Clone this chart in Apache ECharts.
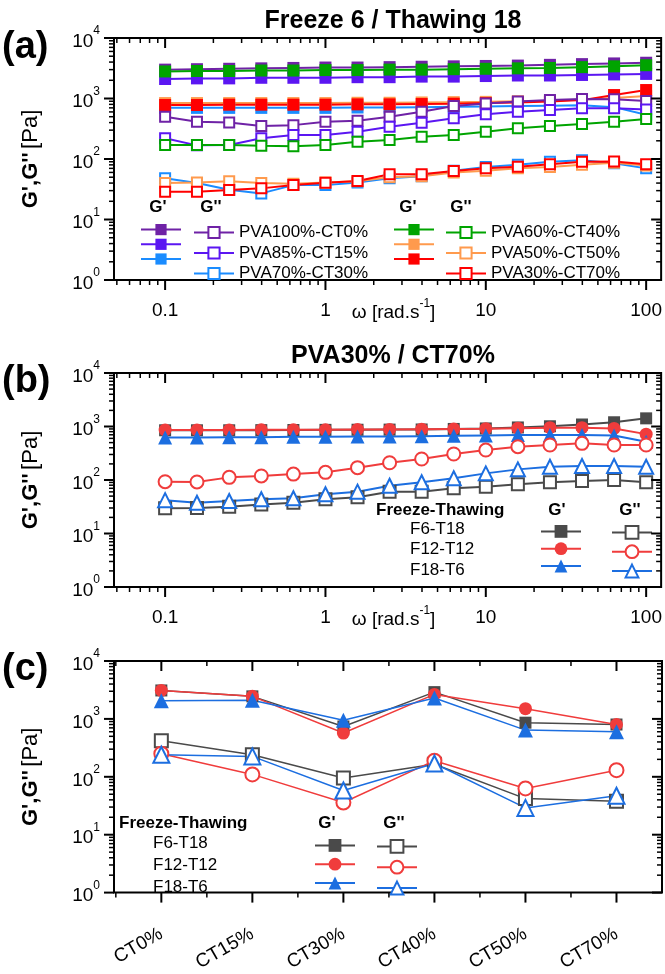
<!DOCTYPE html>
<html><head><meta charset="utf-8">
<script src="https://cdn.jsdelivr.net/npm/echarts@6/dist/echarts.min.js"></script>
<style>html,body{margin:0;padding:0;background:#fff}#c{width:665px;height:974px}</style>
</head><body><div id="c"></div>
<script>
// ---------- data ----------
const freq = [0.1, 0.158, 0.251, 0.398, 0.631, 1, 1.585, 2.512, 3.981, 6.31, 10, 15.85, 25.12, 39.81, 63.1, 100];
const xTickLabels = ['0.1', '1', '10', '100'];
const yExponents = [0, 1, 2, 3, 4];
const catsC = ['CT0%', 'CT15%', 'CT30%', 'CT40%', 'CT50%', 'CT70%'];

// Panel (a): Freeze 6 / Thawing 18, G' (storage) and G'' (loss)
const a100_G1 = [3000,3050,3100,3150,3200,3250,3250,3300,3350,3400,3450,3500,3600,3700,3800,3900];
const a85_G1  = [2100,2150,2150,2200,2200,2200,2250,2250,2300,2300,2350,2400,2400,2450,2500,2550];
const a70_G1  = [700,700,700,700,700,700,710,710,720,730,740,750,760,770,720,540];
const a60_G1  = [2800,2850,2850,2900,2900,2950,2950,3000,3000,3050,3100,3150,3200,3300,3400,3550];
const a50_G1  = [840,840,840,840,840,840,850,850,860,870,880,900,920,960,1020,1100];
const a30_G1  = [780,780,790,790,790,790,800,800,810,820,840,860,890,940,1140,1380];
const a100_G2 = [500,414,400,351,363,414,430,500,605,752,830,890,945,980,975,910];
const a85_G2  = [220,168,170,220,250,250,283,342,398,470,547,605,645,688,688,660];
const a70_G2  = [48,40,31,27,37,37,41,48,52,64,74,80,90,95,85,70];
const a60_G2  = [170,170,170,166,163,170,193,206,234,250,283,321,351,379,414,458];
const a50_G2  = [40,41,43,40,39,41,43,50,52,60,64,70,74,80,87,78];
const a30_G2  = [28.8,28.8,30.7,32.7,37.2,40.6,43.3,55.8,55.8,63.4,70.2,74.6,81.7,90.3,91,81.7];

// Panel (b): PVA30% / CT70%
const b_F6_G1  = [850,850,850,855,860,865,870,875,880,900,920,960,1010,1090,1200,1420];
const b_F12_G1 = [860,860,860,870,870,870,880,880,890,900,910,930,950,950,920,720];
const b_F18_G1 = [620,620,630,630,640,640,650,650,660,670,680,690,690,690,680,520];
const b_F6_G2  = [29.6,30,31.7,35,37.6,43.6,47.5,60.5,60.5,70,75,83,90.6,96,100,90.6];
const b_F12_G2 = [93,92,112,119,129,139,170,210,247,306,363,419,451,484,451,451];
const b_F18_G2 = [42,37.6,40.5,43.6,45.5,54,60.5,78,90.6,108,133,158,177,183,183,177];

// Panel (c): by composition
const c_F6_G1  = [3100, 2450, 740, 2900, 860, 800];
const c_F12_G1 = [3100, 2450, 570, 2650, 1500, 800];
const c_F18_G1 = [2050, 2100, 950, 2300, 640, 600];
const c_F6_G2  = [420, 240, 95, 165, 42, 38];
const c_F12_G2 = [250, 110, 36, 190, 63, 130];
const c_F18_G2 = [240, 225, 58, 170, 29, 47];

// ---------- styling ----------
const FF = "'Liberation Sans', Arial, sans-serif";
const X_MIN = 0.048, X_MAX = 124;
const C_MIN = -0.52, C_MAX = 5.5;
const grids = [
  {left: 114, top: 38, width: 548, height: 242},
  {left: 114, top: 373, width: 548, height: 214},
  {left: 114, top: 661, width: 548, height: 242}
];
const colA = {p100:'#6f22a6', p85:'#5b16f2', p70:'#1a8cff', p60:'#00a400', p50:'#ff9a4d', p30:'#ff0000'};
const colB = {f6:'#4a4a4a', f12:'#f03c3c', f18:'#1c6ee0'};

function mk(name, gi, xs, ys, color, symbol, hollow, size, lw, z) {
  return {
    type: 'line', name: name, xAxisIndex: gi, yAxisIndex: gi,
    data: xs.map((x, i) => [x, ys[i]]),
    symbol: symbol, symbolSize: size, showAllSymbol: true,
    lineStyle: {color: color, width: lw},
    itemStyle: hollow ? {color: '#fff', borderColor: color, borderWidth: 2}
                      : {color: color, borderColor: color, borderWidth: 0},
    emphasis: {disabled: true}, animation: false, z: z || 3
  };
}

const idx = [0,1,2,3,4,5];
const series = [];
// (a) G'
series.push(mk("PVA100%-CT0%|G'", 0, freq, a100_G1, colA.p100, 'rect', false, 12, 2));
series.push(mk("PVA85%-CT15%|G'", 0, freq, a85_G1, colA.p85, 'rect', false, 12, 2));
series.push(mk("PVA70%-CT30%|G'", 0, freq, a70_G1, colA.p70, 'rect', false, 12, 2));
series.push(mk("PVA60%-CT40%|G'", 0, freq, a60_G1, colA.p60, 'rect', false, 12, 2));
series.push(mk("PVA50%-CT50%|G'", 0, freq, a50_G1, colA.p50, 'rect', false, 12, 2));
series.push(mk("PVA30%-CT70%|G'", 0, freq, a30_G1, colA.p30, 'rect', false, 12, 2));
// (a) G''
series.push(mk("PVA100%-CT0%|G''", 0, freq, a100_G2, colA.p100, 'rect', true, 10, 2, 4));
series.push(mk("PVA85%-CT15%|G''", 0, freq, a85_G2, colA.p85, 'rect', true, 10, 2, 4));
series.push(mk("PVA70%-CT30%|G''", 0, freq, a70_G2, colA.p70, 'rect', true, 10, 2, 4));
series.push(mk("PVA60%-CT40%|G''", 0, freq, a60_G2, colA.p60, 'rect', true, 10, 2, 4));
series.push(mk("PVA50%-CT50%|G''", 0, freq, a50_G2, colA.p50, 'rect', true, 10, 2, 4));
series.push(mk("PVA30%-CT70%|G''", 0, freq, a30_G2, colA.p30, 'rect', true, 10, 2, 4));
// (b)
series.push(mk("F6-T18|b|G'", 1, freq, b_F6_G1, colB.f6, 'rect', false, 12, 2));
series.push(mk("F12-T12|b|G'", 1, freq, b_F12_G1, colB.f12, 'circle', false, 13, 2));
series.push(mk("F18-T6|b|G'", 1, freq, b_F18_G1, colB.f18, 'triangle', false, 14, 2));
series.push(mk("F6-T18|b|G''", 1, freq, b_F6_G2, colB.f6, 'rect', true, 12, 2, 4));
series.push(mk("F12-T12|b|G''", 1, freq, b_F12_G2, colB.f12, 'circle', true, 13, 2, 4));
series.push(mk("F18-T6|b|G''", 1, freq, b_F18_G2, colB.f18, 'triangle', true, 14, 2, 4));
// (c)
series.push(mk("F6-T18|c|G'", 2, idx, c_F6_G1, colB.f6, 'rect', false, 12, 1.5));
series.push(mk("F12-T12|c|G'", 2, idx, c_F12_G1, colB.f12, 'circle', false, 13, 1.5));
series.push(mk("F18-T6|c|G'", 2, idx, c_F18_G1, colB.f18, 'triangle', false, 15, 1.5));
series.push(mk("F6-T18|c|G''", 2, idx, c_F6_G2, colB.f6, 'rect', true, 13, 1.5, 4));
series.push(mk("F12-T12|c|G''", 2, idx, c_F12_G2, colB.f12, 'circle', true, 14, 1.5, 4));
series.push(mk("F18-T6|c|G''", 2, idx, c_F18_G2, colB.f18, 'triangle', true, 16, 1.5, 4));

// ---------- axis ticks (major + minor) through the axes' own scales ----------
function logMinor(lo, hi) {
  const out = [];
  for (let e = Math.floor(Math.log10(lo)); e <= Math.ceil(Math.log10(hi)); e++) {
    for (let m = 2; m <= 9; m++) { const v = m * Math.pow(10, e); if (v >= lo && v <= hi) out.push(v); }
  }
  return out;
}
function tickSeries(gi, xMaj, xMin, xLo, xHi) {
  const data = [];
  xMaj.forEach(v => data.push([v, 1, 0, 1]));
  xMin.forEach(v => data.push([v, 1, 0, 0]));
  yExponents.forEach(e => data.push([xLo, Math.pow(10, e), 1, 1]));
  logMinor(1, 10000).forEach(v => data.push([xLo, v, 1, 0]));
  return {
    type: 'custom', xAxisIndex: gi, yAxisIndex: gi, clip: false, silent: true, z: 10,
    animation: false, encode: {x: 0, y: 1}, data: data,
    renderItem: function (params, api) {
      const kind = api.value(2), maj = api.value(3);
      const L = maj ? 10 : 5, lw = maj ? 2 : 1.5;
      const st = {stroke: '#000', lineWidth: lw};
      if (kind === 0) {
        const v = api.value(0);
        const b = api.coord([v, 1]), t = api.coord([v, 10000]);
        return {type: 'group', children: [
          {type: 'line', shape: {x1: b[0], y1: b[1], x2: b[0], y2: b[1] + L}, style: st},
          {type: 'line', shape: {x1: t[0], y1: t[1], x2: t[0], y2: t[1] + L}, style: st}
        ]};
      }
      const v = api.value(1);
      const l = api.coord([xLo, v]), r = api.coord([xHi, v]);
      return {type: 'group', children: [
        {type: 'line', shape: {x1: l[0], y1: l[1], x2: l[0] - L, y2: l[1]}, style: st},
        {type: 'line', shape: {x1: r[0], y1: r[1], x2: r[0] - L, y2: r[1]}, style: st}
      ]};
    }
  };
}
const xMajA = [0.1, 1, 10, 100];
series.push(tickSeries(0, xMajA, logMinor(X_MIN, X_MAX), X_MIN, X_MAX));
series.push(tickSeries(1, xMajA, logMinor(X_MIN, X_MAX), X_MIN, X_MAX));
series.push(tickSeries(2, idx, [-0.5, 0.5, 1.5, 2.5, 3.5, 4.5], C_MIN, C_MAX));

// ---------- axes ----------
const omegaName = '{t|\u03c9 [rad.s}{s|-1}{t|]}';
const omegaRich = {
  t: {fontSize: 19, fontFamily: FF, color: '#000', lineHeight: 24, verticalAlign: 'bottom'},
  s: {fontSize: 12, fontFamily: FF, color: '#000', verticalAlign: 'top'}
};
function logX(gi) {
  return {
    type: 'log', gridIndex: gi, min: X_MIN, max: X_MAX, logBase: 10,
    axisLine: {show: false}, axisTick: {show: false}, splitLine: {show: false},
    axisLabel: {
      fontSize: 19, fontFamily: FF, color: '#000', margin: 21,
      showMinLabel: false, showMaxLabel: false,
      formatter: function (v) {
        const e = Math.log10(v);
        if (Math.abs(e - Math.round(e)) > 1e-6) return '';
        return xTickLabels[Math.round(e) + 1] || '';
      }
    },
    name: omegaName, nameLocation: 'middle', nameGap: 18, nameMoveOverlap: false,
    nameTextStyle: {rich: omegaRich, padding: [0, 0, 0, 12]}
  };
}
const yRich = {
  b: {fontSize: 19, fontFamily: FF, color: '#000', lineHeight: 26, verticalAlign: 'bottom'},
  s: {fontSize: 12, fontFamily: FF, color: '#000', verticalAlign: 'top'}
};
function logY(gi) {
  return {
    type: 'log', gridIndex: gi, min: 1, max: 10000, logBase: 10,
    axisLine: {show: false}, axisTick: {show: false}, splitLine: {show: false},
    axisLabel: {
      margin: 14,
      formatter: function (v) { return '{b|10}{s|' + Math.round(Math.log10(v)) + '}'; },
      rich: yRich
    },
    name: "{g|G',G''} {p|[Pa]}", nameLocation: 'middle', nameGap: 72, nameRotate: 90,
    nameTextStyle: {rich: {
      g: {fontSize: 22, fontWeight: 'bold', fontFamily: FF, color: '#000'},
      p: {fontSize: 22, fontFamily: FF, color: '#000'}
    }}
  };
}
const xAxes = [logX(0), logX(1), {
  type: 'value', gridIndex: 2, min: C_MIN, max: C_MAX,
  axisLine: {show: false}, axisTick: {show: false}, splitLine: {show: false},
  axisLabel: {
    fontSize: 19, fontFamily: FF, color: '#000', rotate: 30, margin: 40,
    showMinLabel: false, showMaxLabel: false,
    formatter: function (v) { return (Number.isInteger(v) && catsC[v]) ? catsC[v] : ''; }
  }
}];
const yAxes = [logY(0), logY(1), logY(2)];

// ---------- legends ----------
function leg(names, left, top, ih, gap, showText) {
  return {
    orient: 'vertical', selectedMode: false, itemWidth: 40,
    data: names, left: left, top: top, itemHeight: ih, itemGap: gap,
    textStyle: {fontSize: 17, fontFamily: FF, color: '#000', lineHeight: ih},
    formatter: showText ? function (n) { return n.split('|')[0]; } : function () { return ''; }
  };
}
const g1 = ['PVA100%-CT0%', 'PVA85%-CT15%', 'PVA70%-CT30%'];
const g2 = ['PVA60%-CT40%', 'PVA50%-CT50%', 'PVA30%-CT70%'];
const ft = ['F6-T18', 'F12-T12', 'F18-T6'];
const legends = [
  leg(g1.map(n => n + "|G'"), 135, 219, 14, 3.5, false),
  leg(g1.map(n => n + "|G''"), 188, 219, 14, 3.5, true),
  leg(g2.map(n => n + "|G'"), 388, 219, 14, 3.5, false),
  leg(g2.map(n => n + "|G''"), 440, 219, 14, 3.5, true),
  leg(ft.map(n => n + "|b|G'"), 535, 520, 16, 4.5, false),
  leg(ft.map(n => n + "|b|G''"), 606, 520, 16, 4.5, false),
  leg(ft.map(n => n + "|c|G'"), 309, 834, 16, 6, false),
  leg(ft.map(n => n + "|c|G''"), 371, 834, 16, 6, false)
];

// ---------- texts ----------
function txt(s, x, y, size, bold, align) {
  return {type: 'text', x: x, y: y, z: 20, silent: true,
    style: {text: s, fontSize: size, fontWeight: bold ? 'bold' : 'normal', fontFamily: FF,
      fill: '#000', align: align || 'left', verticalAlign: 'middle'}};
}
const graphics = [
  txt('(a)', 2, 48, 38, true), txt('(b)', 2, 382, 38, true), txt('(c)', 2, 670, 38, true),
  txt("G'", 158, 207, 17, true, 'center'), txt("G''", 211, 207, 17, true, 'center'),
  txt("G'", 408, 207, 17, true, 'center'), txt("G''", 461, 207, 17, true, 'center'),
  txt('Freeze-Thawing', 376, 510, 17, true), txt("G'", 557, 510, 17, true, 'center'), txt("G''", 630, 510, 17, true, 'center'),
  txt(ft[0], 410, 529, 17), txt(ft[1], 410, 549, 17), txt(ft[2], 410, 570, 17),
  txt('Freeze-Thawing', 119, 823, 17, true), txt("G'", 327, 823, 17, true, 'center'), txt("G''", 394, 823, 17, true, 'center'),
  txt(ft[0], 153, 843, 17), txt(ft[1], 153, 865, 17), txt(ft[2], 153, 887, 17)
];

const chart = echarts.init(document.getElementById('c'), null, {renderer: 'canvas'});
chart.setOption({
  backgroundColor: '#fff', animation: false,
  title: [
    {text: 'Freeze 6 / Thawing 18', left: 388, top: 4, textAlign: 'center',
     textStyle: {fontSize: 25, fontWeight: 'bold', fontFamily: FF, color: '#000'}},
    {text: 'PVA30% / CT70%', left: 388, top: 339, textAlign: 'center',
     textStyle: {fontSize: 25, fontWeight: 'bold', fontFamily: FF, color: '#000'}}
  ],
  grid: grids.map(g => Object.assign({show: true, borderColor: '#000', borderWidth: 2, backgroundColor: 'transparent'}, g)),
  xAxis: xAxes, yAxis: yAxes, legend: legends, graphic: graphics, series: series
});
</script></body></html>
